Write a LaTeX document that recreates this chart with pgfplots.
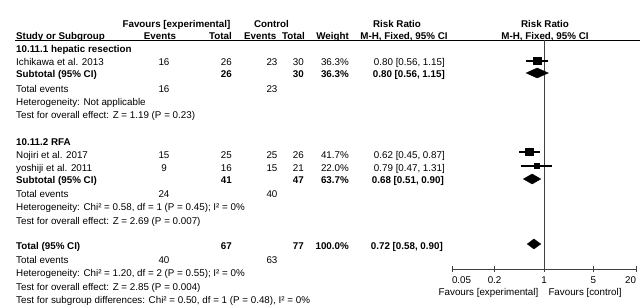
\documentclass[border=0pt]{standalone}
\usepackage{fontspec}
\setmainfont{Liberation Sans}
\usepackage{pgfplots}
\pgfplotsset{compat=1.18}
\definecolor{axgray}{HTML}{404040}
\newcommand{\ff}{\fontsize{9.8}{11}\selectfont}
\begin{document}
\begin{tikzpicture}
\useasboundingbox (0pt,0pt) rectangle (641pt,-307pt);
\begin{scope}[x=1pt,y=-1pt,every node/.style={inner sep=0pt,text height=7pt,text depth=0pt,font=\ff}]
\tikzset{L/.style={anchor=west},R/.style={anchor=east},C/.style={anchor=center},B/.style={font=\ff\bfseries}}
% headers
\node[C,B] at (176.5,24) {Favours [experimental]};
\node[C,B] at (271.5,24) {Control};
\node[C,B] at (397,24) {Risk Ratio};
\node[C,B] at (545,24) {Risk Ratio};
\node[L,B] at (16,36) {Study or Subgroup};
\node[C,B] at (160,36) {Events};
\node[R,B] at (232,36) {Total};
\node[R,B] at (276.5,36) {Events};
\node[R,B] at (305,36) {Total};
\node[R,B] at (349,36) {Weight};
\node[C,B] at (404,36) {M-H, Fixed, 95\% CI};
\node[C,B] at (545,36) {M-H, Fixed, 95\% CI};
\draw[line width=0.8pt] (15,40) -- (640,40);
% subgroup 1
\node[L,B] at (16,49) {10.11.1 hepatic resection};
\node[L] at (16,62) {Ichikawa et al. 2013};
\node[C] at (164,62) {16}; \node[R] at (232,62) {26};
\node[C] at (272,62) {23}; \node[R] at (304,62) {30};
\node[R] at (349,62) {36.3\%}; \node[R] at (445,62) {0.80 [0.56, 1.15]};
\node[L,B] at (16,74) {Subtotal (95\% CI)};
\node[R,B] at (232,74) {26}; \node[R,B] at (304,74) {30};
\node[R,B] at (349,74) {36.3\%}; \node[R,B] at (445,74) {0.80 [0.56, 1.15]};
\node[L] at (16,89) {Total events};
\node[C] at (164,89) {16}; \node[C] at (272,89) {23};
\node[L] at (16,102) {Heterogeneity: Not applicable};
\node[L] at (16,115) {Test for overall effect: Z = 1.19 (P = 0.23)};
% subgroup 2
\node[L,B] at (16,142) {10.11.2 RFA};
\node[L] at (16,155) {Nojiri et al. 2017};
\node[C] at (164,155) {15}; \node[R] at (232,155) {25};
\node[C] at (272,155) {25}; \node[R] at (304,155) {26};
\node[R] at (349,155) {41.7\%}; \node[R] at (445,155) {0.62 [0.45, 0.87]};
\node[L] at (16,168) {yoshiji et al. 2011};
\node[C] at (164,168) {9}; \node[R] at (232,168) {16};
\node[C] at (272,168) {15}; \node[R] at (304,168) {21};
\node[R] at (349,168) {22.0\%}; \node[R] at (445,168) {0.79 [0.47, 1.31]};
\node[L,B] at (16,180) {Subtotal (95\% CI)};
\node[R,B] at (232,180) {41}; \node[R,B] at (304,180) {47};
\node[R,B] at (349,180) {63.7\%}; \node[R,B] at (444,180) {0.68 [0.51, 0.90]};
\node[L] at (16,194) {Total events};
\node[C] at (164,194) {24}; \node[C] at (272,194) {40};
\node[L] at (16,207) {Heterogeneity: Chi² = 0.58, df = 1 (P = 0.45); I² = 0\%};
\node[L] at (16,221) {Test for overall effect: Z = 2.69 (P = 0.007)};
% total
\node[L,B] at (16,246) {Total (95\% CI)};
\node[R,B] at (232,246) {67}; \node[R,B] at (304,246) {77};
\node[R,B] at (349,246) {100.0\%}; \node[R,B] at (443,246) {0.72 [0.58, 0.90]};
\node[L] at (16,260) {Total events};
\node[C] at (164,260) {40}; \node[C] at (272,260) {63};
\node[L] at (16,273) {Heterogeneity: Chi² = 1.20, df = 2 (P = 0.55); I² = 0\%};
\node[L] at (16,287) {Test for overall effect: Z = 2.85 (P = 0.004)};
\node[L] at (16,300) {Test for subgroup differences: Chi² = 0.50, df = 1 (P = 0.48), I² = 0\%};
% favours labels
\node[C] at (488.5,292) {Favours [experimental]};
\node[C] at (585,292) {Favours [control]};
\end{scope}
\begin{axis}[at={(452pt,-269pt)}, anchor=south west, scale only axis,
  width=184pt, height=229pt, xmode=log, xmin=0.05, xmax=20, ymin=-269, ymax=-40,
  axis y line=none, axis x line*=bottom, clip=false,
  xtick={0.05,0.2,1,5,20}, xticklabels={\rlap{0.05},0.2,1,5,\llap{20}}, minor xtick={},
  tick align=center, major tick length=6pt,
  x axis line style={axgray,line width=0.9pt,-}, xtick style={axgray,line width=0.9pt},
  tick label style={font=\ff}, xticklabel style={yshift=-1pt}]
\draw[axgray,line width=1pt] (axis cs:1,-40) -- (axis cs:1,-269);
% study CIs
\addplot[black,line width=1.2pt] coordinates {(0.56,-61) (1.15,-61)};
\addplot[black,line width=1.2pt] coordinates {(0.45,-152) (0.87,-152)};
\addplot[black,line width=1.2pt] coordinates {(0.47,-166) (1.31,-166)};
\addplot[only marks,mark=square*,black,mark size=3.6pt] coordinates {(0.80,-61)};
\addplot[only marks,mark=square*,black,mark size=3.7pt] coordinates {(0.62,-152)};
\addplot[only marks,mark=square*,black,mark size=2.5pt] coordinates {(0.79,-166)};
% diamonds
\addplot[fill=black,draw=black] coordinates {(0.56,-73) (0.80,-68) (1.15,-73) (0.80,-78)} -- cycle;
\addplot[fill=black,draw=black] coordinates {(0.51,-179) (0.68,-174) (0.90,-179) (0.68,-184)} -- cycle;
\addplot[fill=black,draw=black] coordinates {(0.58,-244) (0.72,-239) (0.90,-244) (0.72,-249)} -- cycle;
\end{axis}
\end{tikzpicture}
\end{document}
